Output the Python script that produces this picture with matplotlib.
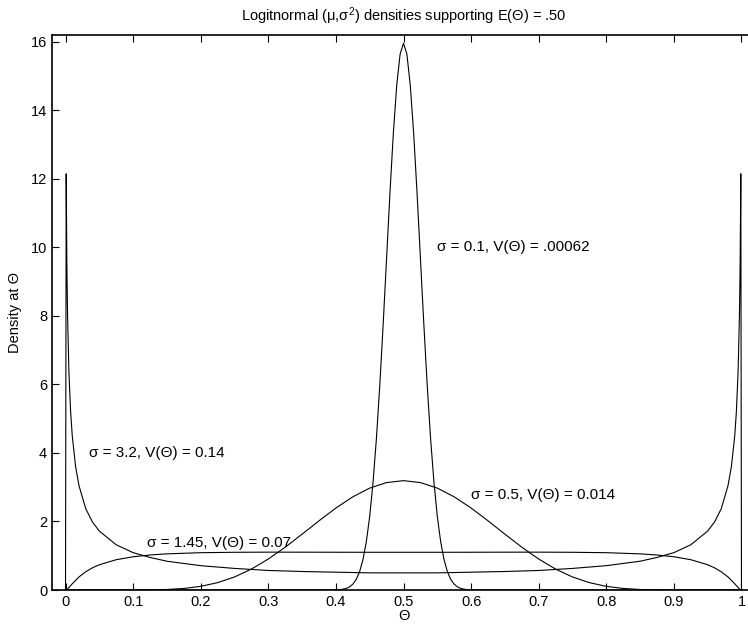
import matplotlib
matplotlib.use("Agg")
import matplotlib.pyplot as plt

plt.rcParams['font.family'] = ['Liberation Sans', 'DejaVu Sans']
plt.rcParams['mathtext.fontset'] = 'custom'
plt.rcParams['mathtext.rm'] = 'Liberation Sans'
plt.rcParams['mathtext.it'] = 'Liberation Sans:italic'

# sigma = 0.1
x_s01 = [0, 0.38, 0.39, 0.40, 0.405, 0.41, 0.415, 0.42, 0.425, 0.43, 0.435, 0.44, 0.445,
         0.45, 0.455, 0.46, 0.465, 0.47, 0.475, 0.48, 0.485, 0.49, 0.495, 0.50,
         0.505, 0.51, 0.515, 0.52, 0.525, 0.53, 0.535, 0.54, 0.545, 0.55, 0.555,
         0.56, 0.565, 0.57, 0.575, 0.58, 0.585, 0.59, 0.595, 0.60, 0.61, 0.62, 1]
y_s01 = [0, 0, 0.001, 0.0045, 0.010, 0.022, 0.045, 0.090, 0.169, 0.306, 0.531, 0.883, 1.408,
         2.151, 3.155, 4.443, 6.002, 7.786, 9.693, 11.606, 13.342, 14.737, 15.643, 15.958,
         15.643, 14.737, 13.342, 11.606, 9.693, 7.786, 6.002, 4.443, 3.155, 2.151, 1.408,
         0.883, 0.531, 0.306, 0.169, 0.090, 0.045, 0.022, 0.010, 0.0045, 0.001, 0, 0]

# sigma = 0.5
x_s05 = [0, 0.05, 0.075, 0.10, 0.125, 0.15, 0.175, 0.20, 0.225, 0.25, 0.275, 0.30, 0.325,
         0.35, 0.375, 0.40, 0.425, 0.45, 0.475, 0.50, 0.525, 0.55, 0.575, 0.60, 0.625,
         0.65, 0.675, 0.70, 0.725, 0.75, 0.775, 0.80, 0.825, 0.85, 0.875, 0.90, 0.925,
         0.95, 1]
y_s05 = [0, 0, 0.00004, 0.0006, 0.0038, 0.0153, 0.0451, 0.1068, 0.2146, 0.3807, 0.6109,
         0.9039, 1.2495, 1.6299, 2.0202, 2.3927, 2.7196, 2.9743, 3.1360, 3.1915, 3.1360,
         2.9743, 2.7196, 2.3927, 2.0202, 1.6299, 1.2495, 0.9039, 0.6109, 0.3807, 0.2146,
         0.1068, 0.0451, 0.0153, 0.0038, 0.0006, 0.00004, 0, 0]

# sigma = 1.45
x_s145 = [0, 0.001, 0.0025, 0.005, 0.01, 0.02, 0.03, 0.04, 0.05, 0.075, 0.10, 0.125, 0.15,
          0.20, 0.25, 0.30, 0.35, 0.40, 0.45, 0.50, 0.55, 0.60, 0.65, 0.70, 0.75, 0.80,
          0.85, 0.875, 0.90, 0.925, 0.95, 0.96, 0.97, 0.98, 0.99, 0.995, 0.9975, 0.999, 1]
y_s145 = [0, 0.003, 0.022, 0.071, 0.183, 0.383, 0.534, 0.649, 0.737, 0.884, 0.970, 1.022,
          1.055, 1.089, 1.101, 1.105, 1.104, 1.102, 1.101, 1.101, 1.101, 1.102, 1.104,
          1.105, 1.101, 1.089, 1.055, 1.022, 0.970, 0.884, 0.737, 0.649, 0.534, 0.383,
          0.183, 0.071, 0.022, 0.003, 0]

# sigma = 3.2
x_s32 = [0, 0.001, 0.002, 0.003, 0.005, 0.0075, 0.01, 0.015, 0.02, 0.03, 0.04, 0.05, 0.075,
         0.10, 0.125, 0.15, 0.20, 0.25, 0.30, 0.35, 0.40, 0.45, 0.50, 0.55, 0.60, 0.65,
         0.70, 0.75, 0.80, 0.85, 0.875, 0.90, 0.925, 0.95, 0.96, 0.97, 0.98, 0.985, 0.99,
         0.9925, 0.995, 0.997, 0.998, 0.999, 1]
y_s32 = [0, 12.15, 9.49, 8.04, 6.38, 5.22, 4.49, 3.59, 3.04, 2.37, 1.98, 1.72, 1.32, 1.09,
         0.95, 0.84, 0.71, 0.63, 0.57, 0.54, 0.52, 0.50, 0.50, 0.50, 0.52, 0.54, 0.57,
         0.63, 0.71, 0.84, 0.95, 1.09, 1.32, 1.72, 1.98, 2.37, 3.04, 3.59, 4.49, 5.22,
         6.38, 8.04, 9.49, 12.15, 0]

labels = ['σ = 0.1, V(Θ) = .00062', 'σ = 0.5, V(Θ) = 0.014',
          'σ = 1.45, V(Θ) = 0.07', 'σ = 3.2, V(Θ) = 0.14']
label_pos = [(0.55, 10.0), (0.60, 2.77), (0.12, 1.37), (0.035, 4.0)]

fig = plt.figure(figsize=(7.48, 6.25), dpi=100)
ax = fig.add_axes([52/748, 35/625, 703/748, 555/625])

for xs, ys in [(x_s01, y_s01), (x_s05, y_s05), (x_s145, y_s145), (x_s32, y_s32)]:
    ax.plot(xs, ys, color='black', lw=0.8)

for txt, (tx, ty) in zip(labels, label_pos):
    ax.text(tx, ty, txt, fontsize=11, ha='left', va='center')

ax.set_xlim(-0.02, 1.02)
ax.set_ylim(0, 16.2)
ax.set_xticks([0, 0.1, 0.2, 0.3, 0.4, 0.5, 0.6, 0.7, 0.8, 0.9, 1])
ax.set_xticklabels(['0', '0.1', '0.2', '0.3', '0.4', '0.5', '0.6', '0.7', '0.8', '0.9', '1'])
ax.set_yticks([0, 2, 4, 6, 8, 10, 12, 14, 16])
ax.tick_params(direction='in', top=True, right=True, length=5, width=0.8, labelsize=10.5)
for s in ax.spines.values():
    s.set_linewidth(1.2)

ax.set_xlabel('Θ', fontsize=10.5, labelpad=0)
ax.set_ylabel('Density at Θ', fontsize=10.5, labelpad=6)
ax.set_title('Logitnormal (μ,σ$^2$) densities supporting E(Θ) = .50', fontsize=10.5, pad=10)

fig.savefig('out.png', dpi=100)
